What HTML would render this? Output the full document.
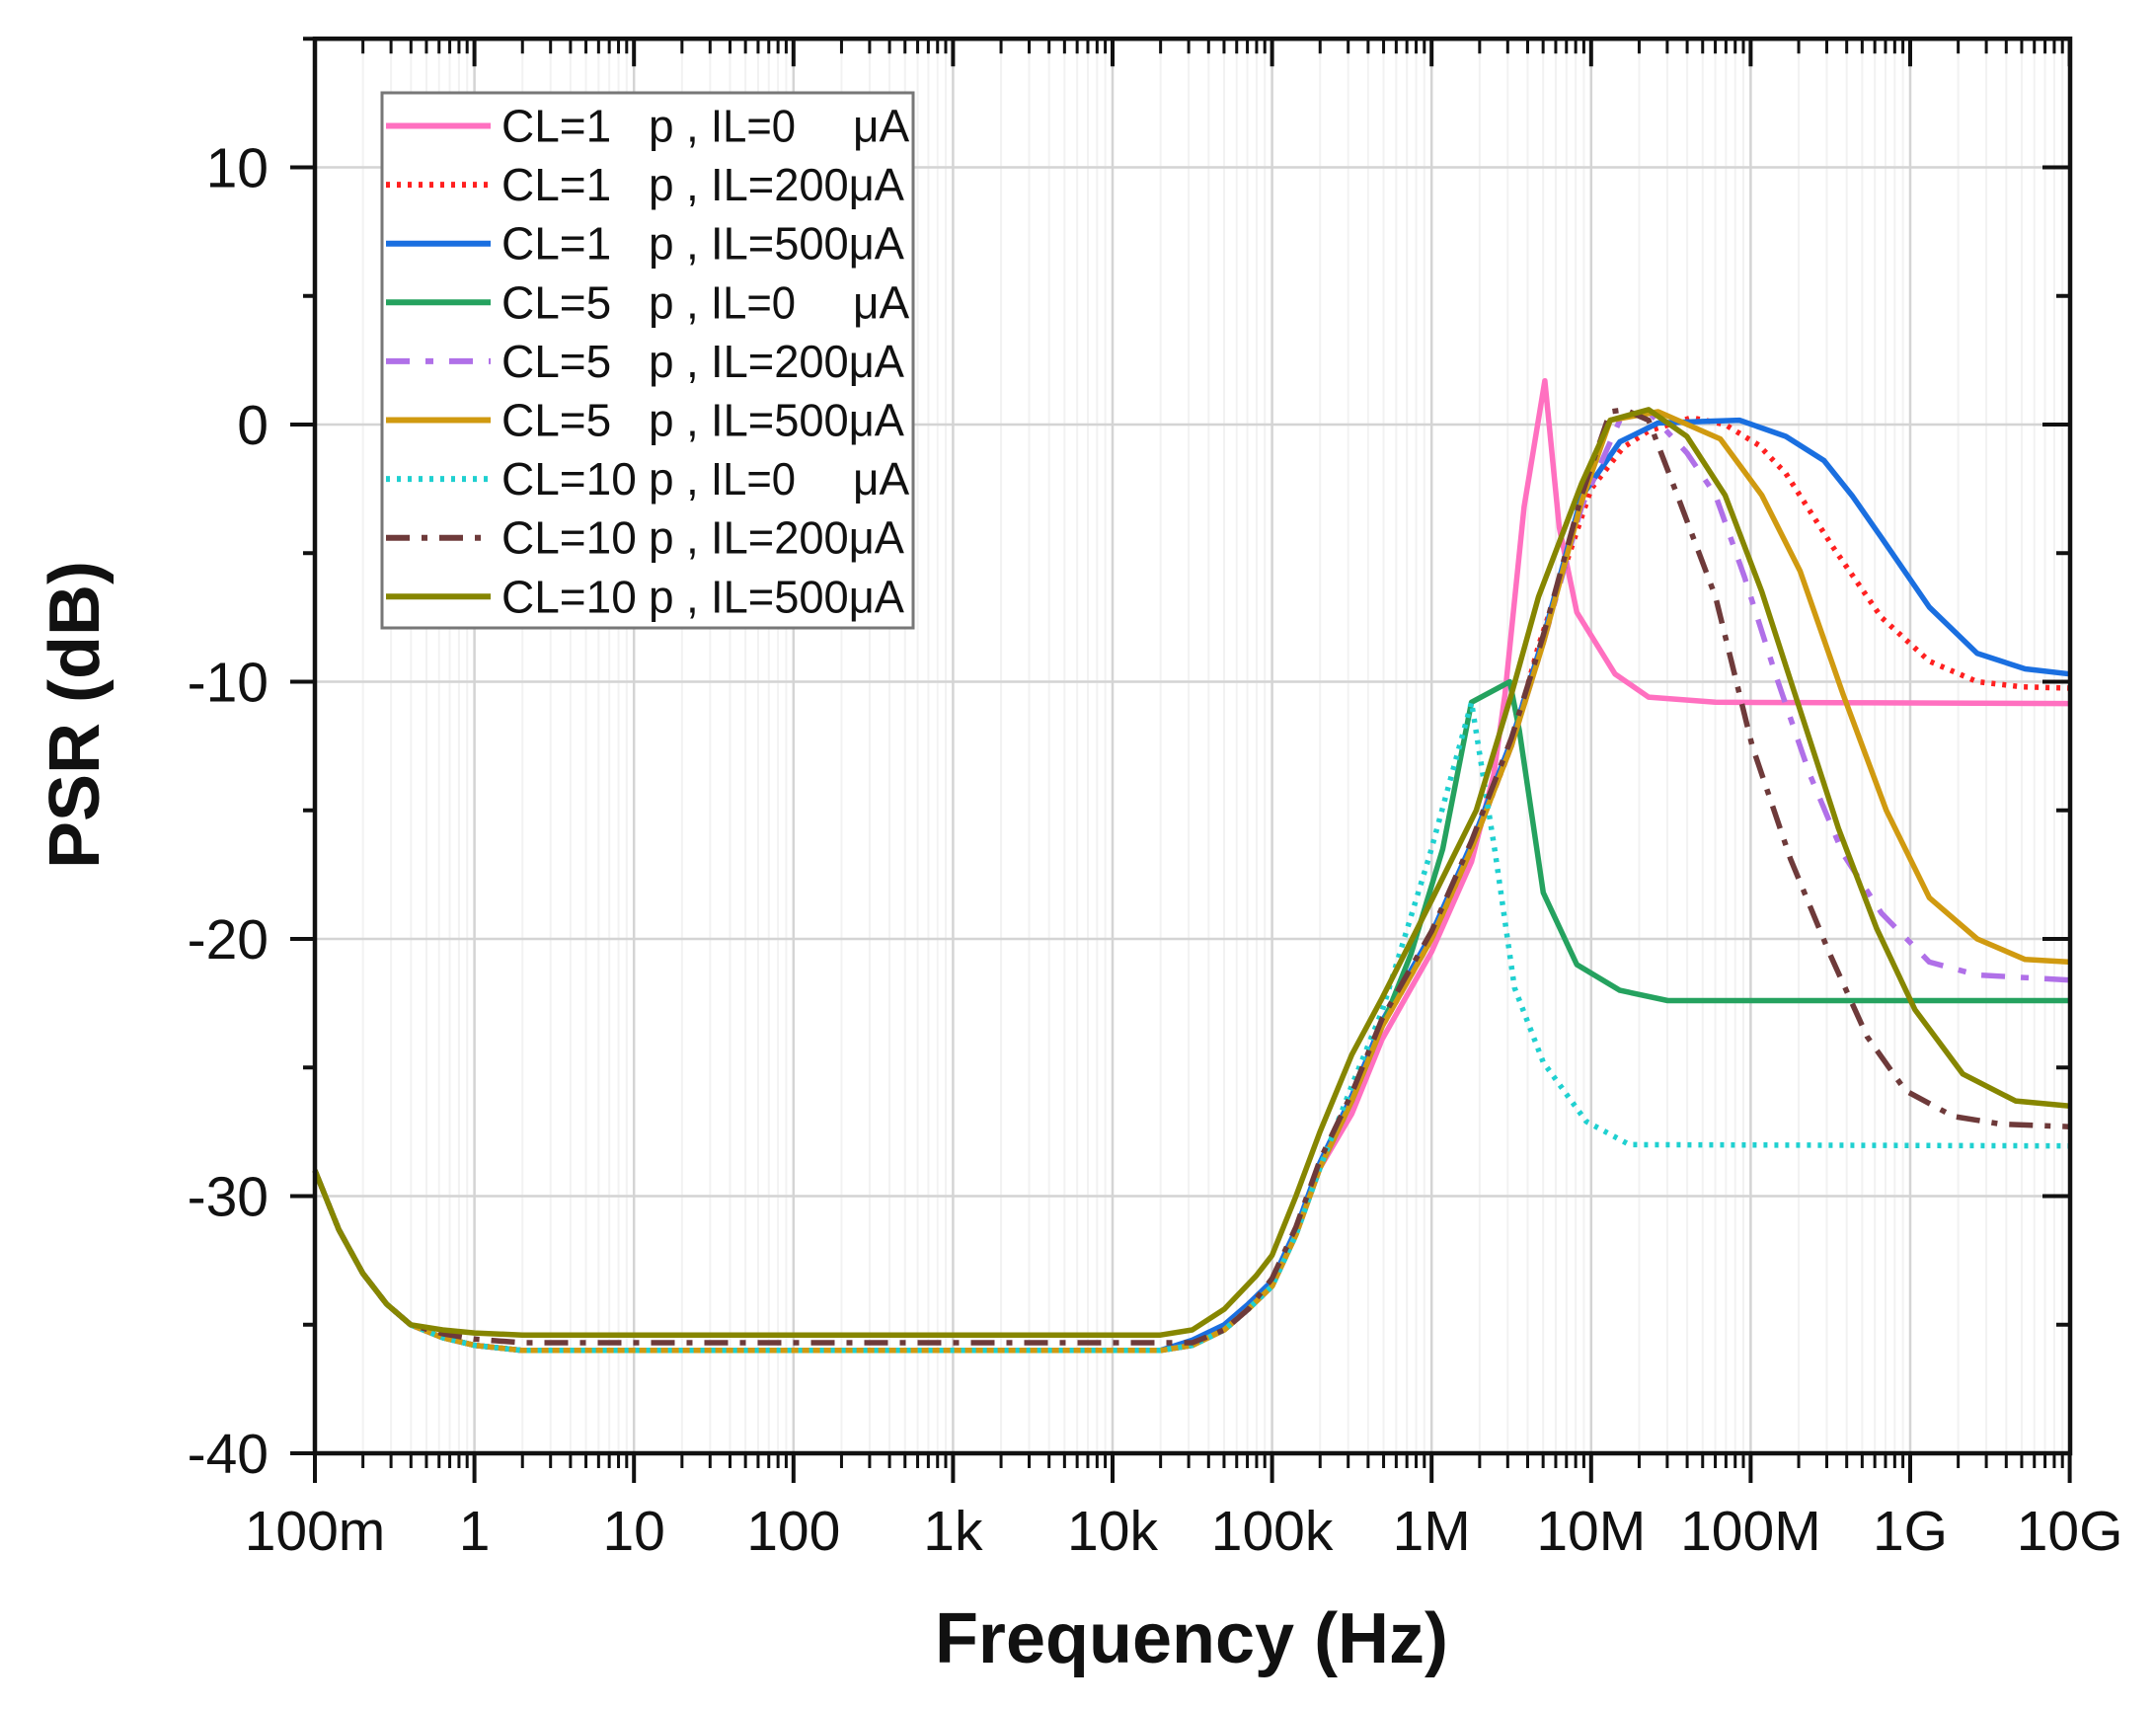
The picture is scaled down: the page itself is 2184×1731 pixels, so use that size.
<!DOCTYPE html>
<html><head><meta charset="utf-8"><style>
html,body{margin:0;padding:0;background:#fff}
svg{display:block}
text{font-family:"Liberation Sans",Arial,sans-serif;fill:#111}
</style></head><body>
<svg id="s" width="2184" height="1731" viewBox="0 0 2184 1731" xmlns="http://www.w3.org/2000/svg">
<g id="grid"></g>
<g id="curves" fill="none" stroke-width="5.5" stroke-linejoin="round"></g>
<g id="axes"></g>
<g id="legend"></g>
<text x="1207" y="1684" font-size="72" font-weight="bold" text-anchor="middle">Frequency (Hz)</text>
<text transform="translate(100,724) rotate(-90)" font-size="72" font-weight="bold" text-anchor="middle">PSR (dB)</text>
</svg>
<script>
const NS="http://www.w3.org/2000/svg";
const X=l=>319+(l+1)*161.6, Y=d=>1472-(d+40)*26.05;
const L=319,R=2097,T=Y(15),B=1472;
function el(p,tag,a,txt){const e=document.createElementNS(NS,tag);for(const k in a)e.setAttribute(k,a[k]);if(txt!==undefined)e.textContent=txt;document.getElementById(p).appendChild(e);return e;}
for(let d=-1;d<10;d++){for(let k=2;k<10;k++){const x=X(d+Math.log10(k));el('grid','line',{x1:x,x2:x,y1:T,y2:B,stroke:'#f2f2f2','stroke-width':2});}}
for(let d=0;d<10;d++){const x=X(d);el('grid','line',{x1:x,x2:x,y1:T,y2:B,stroke:'#d4d4d4','stroke-width':2.5});}
for(let v=-30;v<=10;v+=10){el('grid','line',{x1:L,x2:R,y1:Y(v),y2:Y(v),stroke:'#d4d4d4','stroke-width':2.5});}
const flat=(lv)=>[[-1,-29],[-0.85,-31.3],[-0.7,-33],[-0.55,-34.2],[-0.4,-35],[-0.2,-35.5+(lv+36)*0.5],[0,-35.8+(lv+36)*0.8],[0.3,lv],[4.3,lv]];
const rise=[[4.5,-35.8],[4.7,-35.2],[4.85,-34.4],[5.0,-33.5],[5.15,-31.5],[5.3,-28.9],[5.5,-26.3],[5.69,-23.4],[6.0,-20],[6.25,-16.5],[6.5,-12.5],[6.7,-8.5],[6.94,-3]];
const riseUpTo=(lim)=>rise.filter(p=>p[0]<=lim);
const S=[
 ['#ff70c0',null,[...flat(-36),...riseUpTo(6.25).map(p=>[p[0],p[0]>=5.4?p[1]-0.5:p[1]]),[6.39,-13.6],[6.46,-10.5],[6.58,-3.2],[6.71,1.7],[6.8,-4],[6.91,-7.3],[7.15,-9.7],[7.36,-10.6],[7.78,-10.8],[10,-10.85]]],
 ['#ff2020','4 7',[...flat(-36),...riseUpTo(6.5),[6.67,-8.6],[7.0,-2.5],[7.2,-0.9],[7.36,-0.25],[7.63,0.27],[7.84,0],[8.05,-0.8],[8.22,-1.9],[8.52,-4.8],[8.82,-7.5],[9.12,-9.2],[9.42,-10],[9.7,-10.2],[10,-10.25]]],
 ['#1a6fe0',null,[...flat(-36),...riseUpTo(6.94).map(p=>[p[0],p[1]+0.2]),[7.18,-0.67],[7.42,0.06],[7.93,0.17],[8.22,-0.46],[8.46,-1.4],[8.64,-2.8],[8.82,-4.4],[9.12,-7.1],[9.42,-8.9],[9.72,-9.5],[10,-9.7]]],
 ['#25a25f',null,[...flat(-36),...riseUpTo(5.69),[5.87,-20.6],[6.07,-16.5],[6.25,-10.8],[6.49,-10.0],[6.55,-11.9],[6.7,-18.2],[6.91,-21],[7.18,-22],[7.48,-22.4],[10,-22.4]]],
 ['#b070e8','24 16 8 16',[...flat(-36),...riseUpTo(6.7),[6.94,-3.2],[7.18,0.17],[7.36,0.5],[7.6,-1.1],[7.78,-2.75],[7.96,-5.9],[8.16,-9.8],[8.37,-13.6],[8.58,-16.7],[8.82,-19],[9.12,-20.9],[9.42,-21.4],[10,-21.6]]],
 ['#d09a10',null,[...flat(-36),...riseUpTo(6.94),[7.12,0.17],[7.42,0.5],[7.81,-0.56],[8.07,-2.75],[8.31,-5.7],[8.58,-10.5],[8.85,-15],[9.12,-18.4],[9.42,-20],[9.72,-20.8],[10,-20.9]]],
 ['#1fd0d0','4 7',[...flat(-36),...riseUpTo(5.69).map(p=>[p[0],p[0]>=5.4?p[1]+0.6:p[1]]),[5.99,-16.7],[6.25,-10.8],[6.4,-16.7],[6.52,-21.9],[6.7,-24.8],[6.97,-27.1],[7.24,-28],[10,-28.05]]],
 ['#6e3a3a','24 12 6 12',[...flat(-35.7),...riseUpTo(6.7).map(p=>[p[0],p[0]>=4.9?p[1]+0.3:Math.max(p[1],-35.7)]),[6.94,-2.75],[7.12,0.5],[7.21,0.58],[7.36,0.17],[7.54,-2.75],[7.78,-6.7],[8.01,-12.5],[8.25,-16.9],[8.49,-20.5],[8.73,-23.8],[8.97,-25.9],[9.27,-26.9],[9.57,-27.2],[10,-27.3]]],
 ['#868600',null,[...flat(-35.4),[4.5,-35.2],[4.7,-34.4],[4.9,-33.1],[5.0,-32.3],[5.15,-30],[5.3,-27.5],[5.5,-24.5],[5.69,-22.3],[6.0,-18.5],[6.28,-15],[6.5,-10.5],[6.67,-6.7],[6.94,-2.3],[7.12,0.17],[7.36,0.58],[7.6,-0.46],[7.84,-2.75],[8.07,-6.5],[8.31,-11.1],[8.55,-15.7],[8.79,-19.6],[9.03,-22.75],[9.33,-25.25],[9.66,-26.3],[10,-26.5]]]
];
S.forEach(([c,da,pts])=>{const d='M'+pts.map(p=>X(p[0]).toFixed(1)+','+Y(p[1]).toFixed(1)).join(' L');const a={d:d,stroke:c};if(da){a['stroke-dasharray']=da;a['stroke-linecap']='butt';}el('curves','path',a);});
el('axes','rect',{x:L,y:T,width:R-L,height:B-T,fill:'none',stroke:'#111','stroke-width':4.5});
for(let d=-1;d<=10;d++){const x=X(d);el('axes','line',{x1:x,x2:x,y1:B,y2:B+30,stroke:'#111','stroke-width':4});el('axes','line',{x1:x,x2:x,y1:T,y2:T+28,stroke:'#111','stroke-width':4});
 if(d<10)for(let k=2;k<10;k++){const xm=X(d+Math.log10(k));el('axes','line',{x1:xm,x2:xm,y1:B,y2:B+15,stroke:'#111','stroke-width':3});el('axes','line',{x1:xm,x2:xm,y1:T,y2:T+15,stroke:'#111','stroke-width':3});}}
const xl=['100m','1','10','100','1k','10k','100k','1M','10M','100M','1G','10G'];
xl.forEach((t,i)=>el('axes','text',{x:X(i-1),y:1570,'font-size':57,'text-anchor':'middle'},t));
for(let v=-40;v<=15;v+=5){const y=Y(v);const maj=v%10==0;el('axes','line',{x1:L-(maj?25:12),x2:L,y1:y,y2:y,stroke:'#111','stroke-width':4});el('axes','line',{x1:R-(maj?28:14),x2:R,y1:y,y2:y,stroke:'#111','stroke-width':4});
 if(maj&&v<=10)el('axes','text',{x:272,y:y+20,'font-size':57,'text-anchor':'end'},String(v));}
el('legend','rect',{x:387,y:94,width:538,height:542,fill:'#fff',stroke:'#777','stroke-width':3});
const LT=[['CL=1','IL=0',1],['CL=1','IL=200μA',0],['CL=1','IL=500μA',0],['CL=5','IL=0',1],['CL=5','IL=200μA',0],['CL=5','IL=500μA',0],['CL=10','IL=0',1],['CL=10','IL=200μA',0],['CL=10','IL=500μA',0]];
LT.forEach((r,i)=>{const y=127.5+i*59.6;const [c,da]=S[i];const a={x1:391,x2:497,y1:y,y2:y,stroke:c,'stroke-width':6};if(da)a['stroke-dasharray']=da;el('legend','line',a);
 const fs=46,by=y+16;el('legend','text',{x:508,y:by,'font-size':fs},r[0]);el('legend','text',{x:657,y:by,'font-size':fs},'p');el('legend','text',{x:695,y:by,'font-size':fs},',');el('legend','text',{x:720,y:by,'font-size':fs,textLength:(r[1].length>4?196:86),lengthAdjust:'spacingAndGlyphs'},r[1]);if(r[2])el('legend','text',{x:864,y:by,'font-size':fs},'μA');});
</script>
</body></html>
